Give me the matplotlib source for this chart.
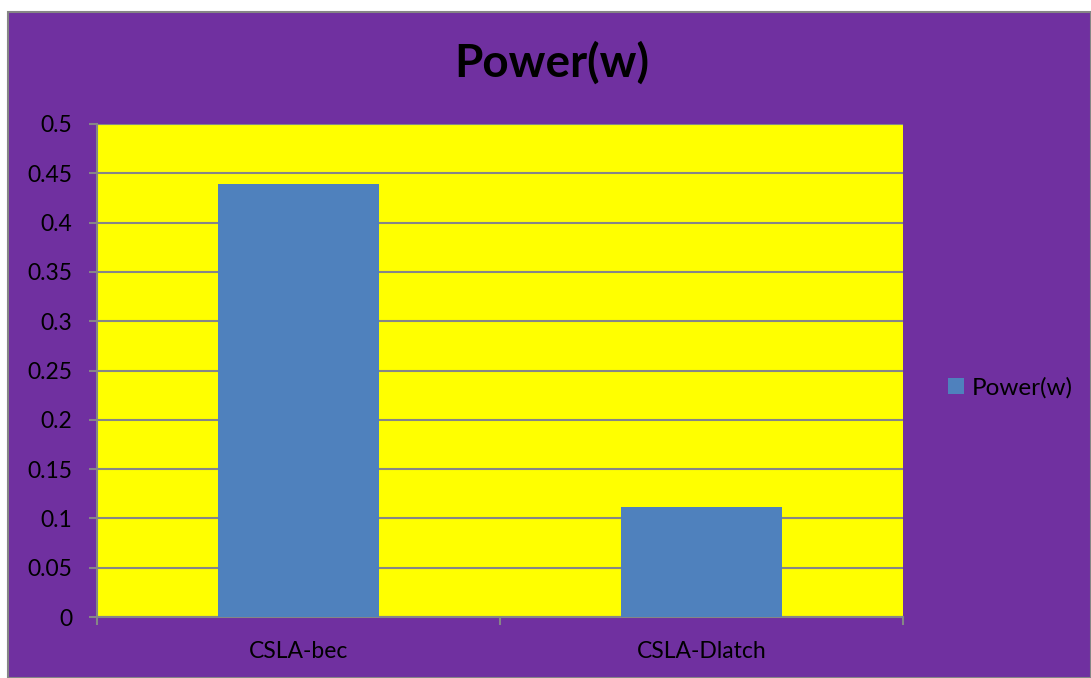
import matplotlib.pyplot as plt
from matplotlib.patches import Rectangle

categories = ["CSLA-bec", "CSLA-Dlatch"]
power = [0.439, 0.112]
series_name = "Power(w)"
yticks = [0, 0.05, 0.1, 0.15, 0.2, 0.25, 0.3, 0.35, 0.4, 0.45, 0.5]

purple = "#7030A0"
yellow = "#FFFF00"
blue = "#4F81BD"
grey = "#868686"

plt.rcParams['font.family'] = ['Lato', 'DejaVu Sans']

W, H = 1091, 678
fig = plt.figure(figsize=(W / 100, H / 100), dpi=100)
fig.patch.set_facecolor("white")
# purple chart area with grey border, white strip at left/top
fig.patches.append(Rectangle((8 / W, 0), 1 - 8 / W, 1 - 12 / H, transform=fig.transFigure,
                             facecolor=purple, edgecolor=grey, linewidth=1.5, zorder=-5))

ax = fig.add_axes([97 / W, (H - 617) / H, (903 - 97) / W, (617 - 124) / H])
ax.set_zorder(2)
ax.set_facecolor(yellow)
x = list(range(len(categories)))
ax.bar(x, power, width=0.4, color=blue, label=series_name, zorder=3)

ax.set_xlim(-0.5, len(categories) - 0.5)
ax.set_ylim(0, 0.5)
ax.set_yticks(yticks)
ax.set_yticklabels([("%g" % v) for v in yticks], fontsize=16.5)
ax.grid(axis="y", color=grey, linewidth=1.5, zorder=1)

ax.set_xticks([i - 0.5 for i in range(len(categories) + 1)])
ax.set_xticklabels([])
ax.set_xticks(x, minor=True)
ax.set_xticklabels(categories, minor=True, fontsize=16.5)
ax.tick_params(axis="x", which="minor", length=0, pad=17)
ax.tick_params(axis="x", which="major", length=6, width=1.5, color=grey)
ax.tick_params(axis="y", length=6, width=1.5, color=grey, pad=12)

for side in ["top", "right"]:
    ax.spines[side].set_visible(False)
for side in ["left", "bottom"]:
    ax.spines[side].set_color(grey)
    ax.spines[side].set_linewidth(1.5)

fig.text(552 / W, 1 - 63 / H, "Power(w)", ha="center", va="center",
         fontsize=33, fontweight="bold")

fig.legend(loc="center left", bbox_to_anchor=(926 / W, 1 - 388 / H), frameon=False,
           fontsize=17.5, handlelength=0.65, handleheight=0.65, handletextpad=0.35)

fig.savefig("out.png", dpi=100, facecolor=fig.get_facecolor())
